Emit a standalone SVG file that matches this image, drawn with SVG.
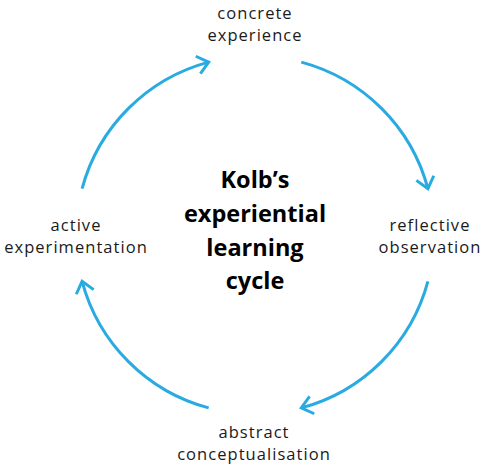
<svg xmlns="http://www.w3.org/2000/svg" width="485" height="470" viewBox="0 0 485 470">
  <style>
    .arc { fill: none; stroke: #29abe2; stroke-width: 3; }
    .lbl { font-family: "Open Sans", "Liberation Sans", sans-serif; font-size: 16.5px; letter-spacing: 1.05px; fill: #1a1a1a; text-anchor: middle; }
    .title { font-family: "Open Sans", "Liberation Sans", sans-serif; font-size: 23.5px; font-weight: bold; fill: #000; text-anchor: middle; }
  </style>
  <defs>
    <marker id="arrow" markerUnits="userSpaceOnUse" markerWidth="30" markerHeight="30" viewBox="-15 -15 30 30" refX="0" refY="0" orient="auto">
      <path d="M-11,-9 L0,0 L-11,9" fill="none" stroke="#29abe2" stroke-width="3" stroke-linejoin="miter"/>
    </marker>
  </defs>
  <rect width="485" height="470" fill="#ffffff"/>
  <g id="connectors">
    <path class="arc" d="M82.1,188.7 A179,179 0 0 1 208.7,62.1" marker-end="url(#arrow)"/>
    <path class="arc" d="M301.3,62.1 A179,179 0 0 1 427.9,188.7" marker-end="url(#arrow)"/>
    <path class="arc" d="M427.9,281.3 A179,179 0 0 1 301.3,407.9" marker-end="url(#arrow)"/>
    <path class="arc" d="M208.7,407.9 A179,179 0 0 1 82.1,281.3" marker-end="url(#arrow)"/>
  </g>
  <g id="title">
    <text class="title" x="255" y="188">Kolb’s</text>
    <text class="title" x="255" y="222">experiential</text>
    <text class="title" x="255" y="256">learning</text>
    <text class="title" x="255" y="289">cycle</text>
  </g>
  <g id="concrete-experience">
    <text class="lbl" x="255" y="19">concrete</text>
    <text class="lbl" x="255" y="41">experience</text>
  </g>
  <g id="reflective-observation">
    <text class="lbl" x="430" y="231">reflective</text>
    <text class="lbl" x="430" y="253">observation</text>
  </g>
  <g id="abstract-conceptualisation">
    <text class="lbl" x="254" y="438">abstract</text>
    <text class="lbl" x="254" y="460">conceptualisation</text>
  </g>
  <g id="active-experimentation">
    <text class="lbl" x="76" y="231">active</text>
    <text class="lbl" x="76" y="253">experimentation</text>
  </g>
</svg>
